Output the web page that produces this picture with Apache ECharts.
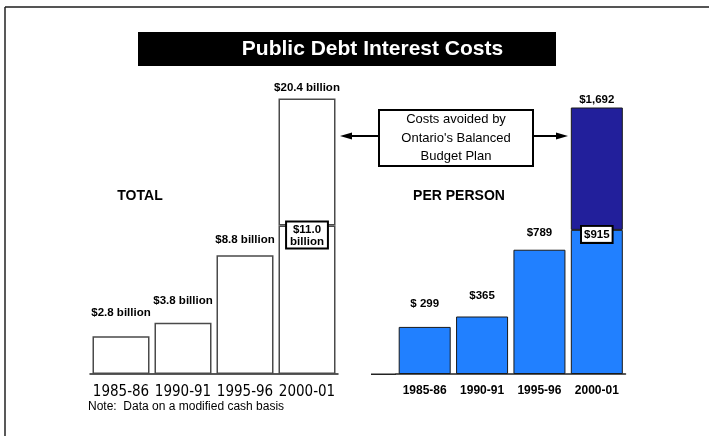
<!DOCTYPE html>
<html>
<head>
<meta charset="utf-8">
<title>Public Debt Interest Costs</title>
<script src="https://cdn.jsdelivr.net/npm/echarts@6/dist/echarts.min.js"></script>
<style>
  html, body { margin: 0; padding: 0; background: #ffffff; }
  #chart { width: 709px; height: 436px; }
</style>
</head>
<body>
<div id="chart"></div>
<script>
// Fiscal years shown on both panels
const years = ['1985-86', '1990-91', '1995-96', '2000-01'];

// Total interest cost, $ billions (2000-01 is the projection without the plan)
const totalBillions = [2.8, 3.8, 8.8, 20.4];
const totalLabels = ['$2.8 billion', '$3.8 billion', '$8.8 billion', '$20.4 billion'];
// 2000-01 total under the Balanced Budget Plan
const plannedTotal = 11.0;
const plannedTotalLabel = '$11.0\nbillion';

// Interest cost per person, $
const perPerson = [299, 365, 789, 1692];
const perPersonLabels = ['$ 299', '$365', '$789', '$1,692'];
// 2000-01 per-person cost under the Balanced Budget Plan
const plannedPerPerson = 915;
const plannedPerPersonLabel = '$915';

const LIGHT_BLUE = '#2180ff';
const DARK_BLUE = '#221f9b';
const labelFont = 'Liberation Sans, Arial, sans-serif';

// gap between each bar top and its value label
const totalLift = [17, 16, 9, 5];
const personLift = [17, 15, 11, 2];

function topLabel(text, lift) {
  return {
    show: true, position: 'top', distance: lift, formatter: text,
    fontFamily: labelFont, fontSize: 11.5, fontWeight: 'bold', color: '#000'
  };
}
function boxLabel(text, padding) {
  return {
    show: true, position: ['50%', -3], align: 'center', verticalAlign: 'top',
    formatter: text, fontFamily: labelFont, fontSize: 11.5, fontWeight: 'bold',
    lineHeight: 12, color: '#000', backgroundColor: '#ffffff',
    borderColor: '#000', borderWidth: 2, padding: padding
  };
}

const last = years.length - 1;

const totalBase = years.map((y, i) => i < last
  ? { value: totalBillions[i], label: topLabel(totalLabels[i], totalLift[i]) }
  : { value: plannedTotal, label: boxLabel(plannedTotalLabel, [1, 3, 0, 3]) });
const totalAvoided = years.map((y, i) => i < last ? '-'
  : { value: +(totalBillions[i] - plannedTotal).toFixed(1),
      label: topLabel(totalLabels[i], totalLift[i]) });

const personBase = years.map((y, i) => i < last
  ? { value: perPerson[i], label: topLabel(perPersonLabels[i], personLift[i]) }
  : { value: plannedPerPerson, label: boxLabel(plannedPerPersonLabel, [2, 2, 1, 2]) });
const personAvoided = years.map((y, i) => i < last ? '-'
  : { value: perPerson[i] - plannedPerPerson,
      label: topLabel(perPersonLabels[i], personLift[i]) });

const chart = echarts.init(document.getElementById('chart'), null, { renderer: 'canvas' });

const axisCommon = {
  type: 'category', data: years,
  axisLine: { lineStyle: { color: '#222', width: 1.5 } },
  axisTick: { alignWithLabel: true, length: 5, lineStyle: { color: '#222', width: 1 } }
};

chart.setOption({
  backgroundColor: '#ffffff',
  animation: false,
  grid: [
    { left: 90, right: 371, top: 50, bottom: 62 },
    { left: 396, right: 83.5, top: 59, bottom: 62 }
  ],
  xAxis: [
    Object.assign({}, axisCommon, {
      gridIndex: 0,
      axisLabel: {
        interval: 0, margin: 11, color: '#000', fontSize: 15,
        fontFamily: "'Liberation Sans Narrow', 'DejaVu Sans Condensed', 'Arial Narrow', sans-serif"
      }
    }),
    Object.assign({}, axisCommon, {
      gridIndex: 1,
      axisLabel: {
        interval: 0, margin: 11, color: '#000', fontSize: 12, fontWeight: 'bold',
        fontFamily: labelFont
      }
    })
  ],
  yAxis: [
    { gridIndex: 0, type: 'value', min: 0, max: 24, show: false },
    { gridIndex: 1, type: 'value', min: 0, max: 2000, show: false }
  ],
  series: [
    {
      name: 'Total', type: 'bar', xAxisIndex: 0, yAxisIndex: 0, stack: 'total',
      barWidth: 57, data: totalBase,
      itemStyle: { color: '#ffffff', borderColor: '#4a4a4a', borderWidth: 1.5 }
    },
    {
      name: 'Total avoided', type: 'bar', xAxisIndex: 0, yAxisIndex: 0, stack: 'total',
      barWidth: 57, data: totalAvoided,
      itemStyle: { color: '#ffffff', borderColor: '#4a4a4a', borderWidth: 1.5 }
    },
    {
      name: 'Per person', type: 'bar', xAxisIndex: 1, yAxisIndex: 1, stack: 'person',
      barWidth: 52, data: personBase,
      itemStyle: { color: LIGHT_BLUE, borderColor: '#1a1a1a', borderWidth: 1 }
    },
    {
      name: 'Per person avoided', type: 'bar', xAxisIndex: 1, yAxisIndex: 1, stack: 'person',
      barWidth: 52, data: personAvoided,
      itemStyle: { color: DARK_BLUE, borderColor: '#1a1a1a', borderWidth: 1 }
    }
  ],
  graphic: [
    // page frame
    { type: 'line', shape: { x1: 5, y1: 7, x2: 709, y2: 7 }, style: { stroke: '#555', lineWidth: 2 } },
    { type: 'line', shape: { x1: 5, y1: 7, x2: 5, y2: 436 }, style: { stroke: '#222', lineWidth: 1.5 } },
    // lead-in of the per-person baseline
    { type: 'line', shape: { x1: 371, y1: 374.25, x2: 396, y2: 374.25 }, style: { stroke: '#222', lineWidth: 1.5 } },
    // title banner
    { type: 'rect', shape: { x: 138, y: 32, width: 418, height: 34 }, style: { fill: '#000' } },
    {
      type: 'text', x: 372.5, y: 49,
      style: {
        text: 'Public Debt Interest Costs', fill: '#fff', font: 'bold 21px ' + labelFont,
        textAlign: 'center', textVerticalAlign: 'middle'
      }
    },
    // panel headings
    {
      type: 'text', x: 140, y: 196.5,
      style: { text: 'TOTAL', fill: '#000', font: 'bold 14px ' + labelFont, textAlign: 'center', textVerticalAlign: 'middle' }
    },
    {
      type: 'text', x: 459, y: 196.5,
      style: { text: 'PER PERSON', fill: '#000', font: 'bold 14px ' + labelFont, textAlign: 'center', textVerticalAlign: 'middle' }
    },
    // call-out box with arrows pointing at the avoided costs
    { type: 'line', shape: { x1: 351, y1: 136, x2: 379, y2: 136 }, style: { stroke: '#000', lineWidth: 2 } },
    { type: 'polygon', shape: { points: [[340, 136], [352, 132.5], [352, 139.5]] }, style: { fill: '#000' } },
    { type: 'line', shape: { x1: 533, y1: 136, x2: 557, y2: 136 }, style: { stroke: '#000', lineWidth: 2 } },
    { type: 'polygon', shape: { points: [[568, 136], [556, 132.5], [556, 139.5]] }, style: { fill: '#000' } },
    {
      type: 'rect', shape: { x: 379, y: 110, width: 154, height: 56 },
      style: { fill: '#fff', stroke: '#000', lineWidth: 2 }
    },
    {
      type: 'text', x: 456, y: 138,
      style: {
        text: "Costs avoided by\nOntario's Balanced\nBudget Plan", fill: '#000',
        font: '13px ' + labelFont, lineHeight: 18.5, textAlign: 'center', textVerticalAlign: 'middle'
      }
    },
    // footnote
    {
      type: 'text', x: 88, y: 407,
      style: {
        text: 'Note:  Data on a modified cash basis', fill: '#000',
        font: '12px ' + labelFont, textAlign: 'left', textVerticalAlign: 'middle'
      }
    }
  ]
});
</script>
</body>
</html>
